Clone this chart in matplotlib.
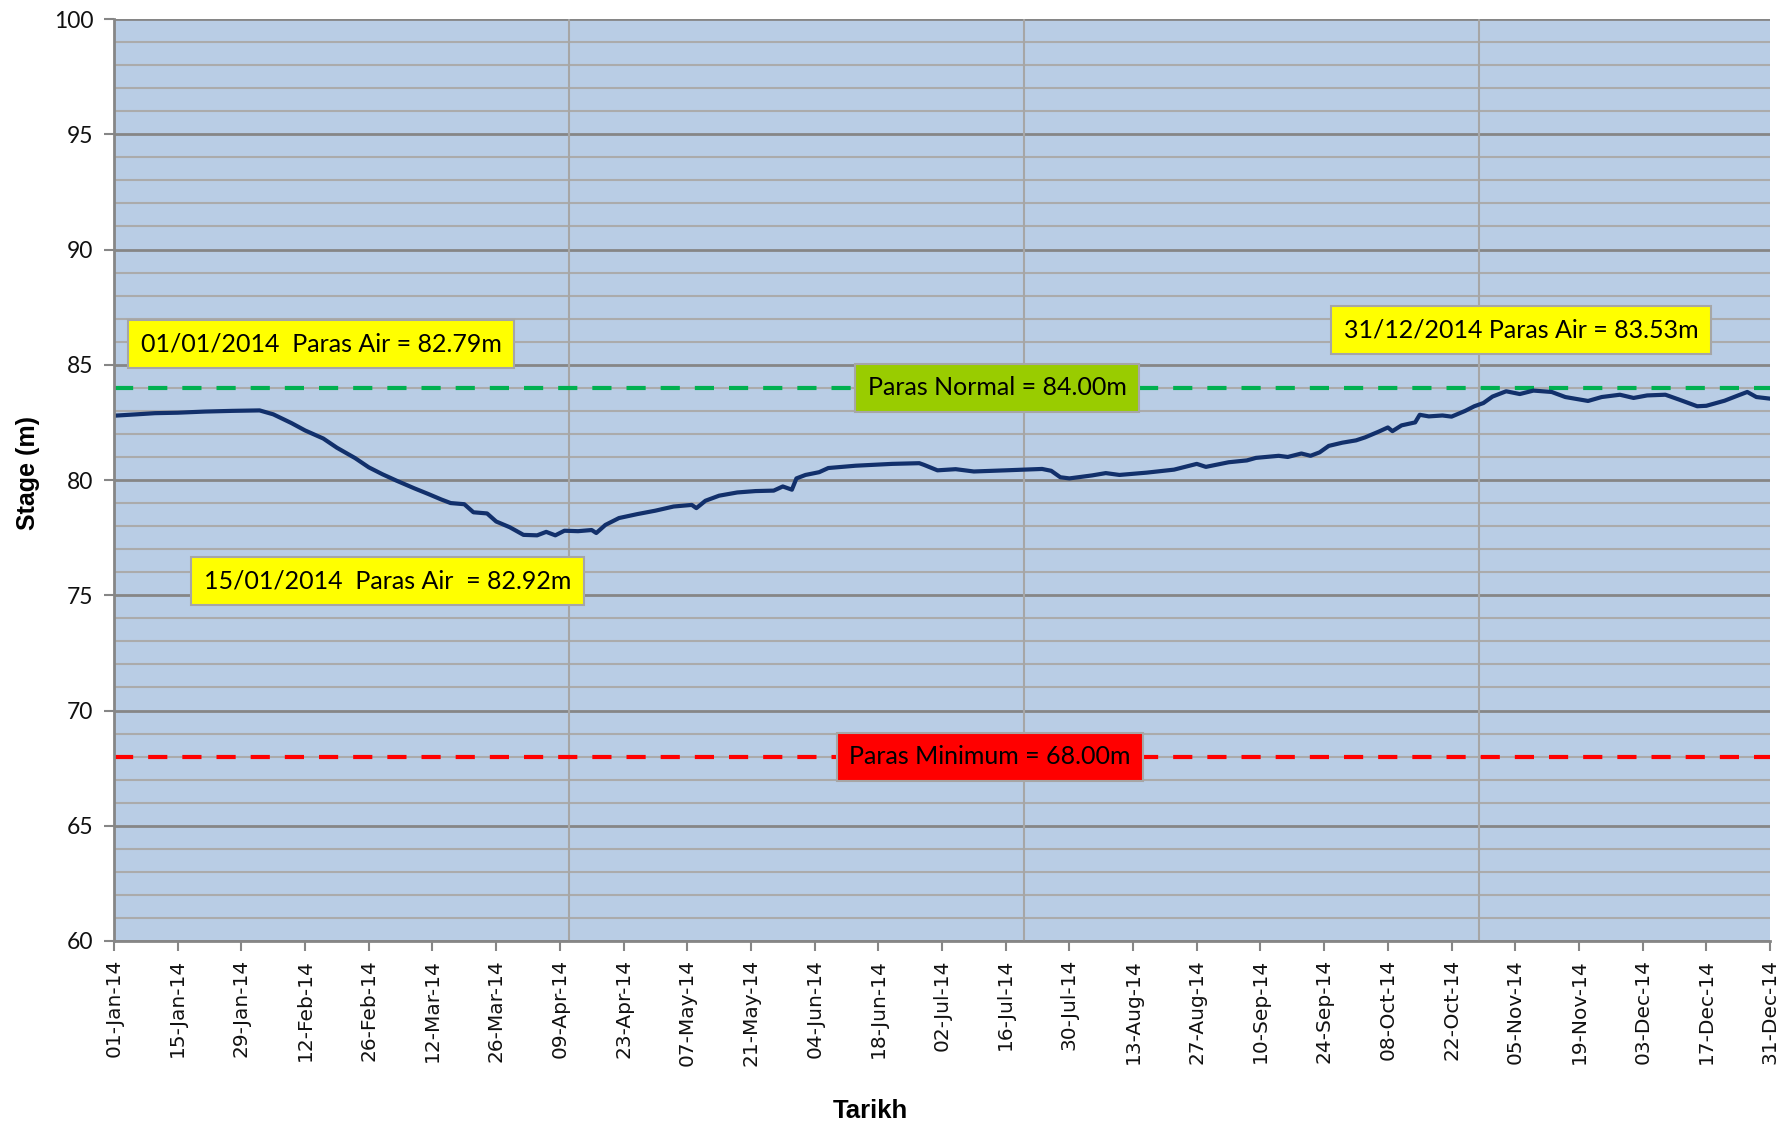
import matplotlib
matplotlib.use("Agg")
import matplotlib.pyplot as plt
import matplotlib.dates as mdates
import pandas as pd

# Daily reservoir stage readings (m), 2014
dates = [
    "2014-01-01", "2014-01-06", "2014-01-10", "2014-01-15", "2014-01-21", "2014-01-27",
    "2014-02-02", "2014-02-05", "2014-02-09", "2014-02-12", "2014-02-16", "2014-02-19",
    "2014-02-23", "2014-02-26", "2014-03-01", "2014-03-04", "2014-03-08", "2014-03-11",
    "2014-03-14", "2014-03-16", "2014-03-19", "2014-03-21", "2014-03-24", "2014-03-26",
    "2014-03-29", "2014-04-01", "2014-04-04", "2014-04-06", "2014-04-08", "2014-04-10",
    "2014-04-13", "2014-04-16", "2014-04-17", "2014-04-19", "2014-04-22", "2014-04-26",
    "2014-04-30", "2014-05-04", "2014-05-08", "2014-05-09", "2014-05-11", "2014-05-14",
    "2014-05-18", "2014-05-22", "2014-05-26", "2014-05-28", "2014-05-30", "2014-05-31",
    "2014-06-02", "2014-06-05", "2014-06-07", "2014-06-13", "2014-06-21", "2014-06-27",
    "2014-06-28", "2014-07-01", "2014-07-05", "2014-07-09", "2014-07-16", "2014-07-24",
    "2014-07-26", "2014-07-28", "2014-07-30", "2014-08-04", "2014-08-07", "2014-08-10",
    "2014-08-16", "2014-08-22", "2014-08-27", "2014-08-29", "2014-09-03", "2014-09-07",
    "2014-09-09", "2014-09-14", "2014-09-16", "2014-09-19", "2014-09-21", "2014-09-23",
    "2014-09-25", "2014-09-28", "2014-10-01", "2014-10-03", "2014-10-06", "2014-10-08",
    "2014-10-09", "2014-10-11", "2014-10-14", "2014-10-15", "2014-10-17", "2014-10-20",
    "2014-10-22", "2014-10-25", "2014-10-27", "2014-10-29", "2014-10-31", "2014-11-03",
    "2014-11-06", "2014-11-09", "2014-11-13", "2014-11-16", "2014-11-21", "2014-11-24",
    "2014-11-28", "2014-12-01", "2014-12-04", "2014-12-08", "2014-12-11", "2014-12-15",
    "2014-12-17", "2014-12-21", "2014-12-24", "2014-12-26", "2014-12-28", "2014-12-31",
]
stage = [
    82.79, 82.85, 82.90, 82.92, 82.97, 83.00,
    83.02, 82.85, 82.47, 82.15, 81.80, 81.40,
    80.95, 80.55, 80.25, 79.98, 79.64, 79.40,
    79.15, 79.00, 78.95, 78.60, 78.55, 78.20,
    77.95, 77.62, 77.60, 77.75, 77.60, 77.80,
    77.78, 77.83, 77.70, 78.05, 78.35, 78.52,
    78.67, 78.85, 78.92, 78.78, 79.10, 79.32,
    79.46, 79.52, 79.54, 79.72, 79.58, 80.07,
    80.22, 80.34, 80.52, 80.62, 80.70, 80.73,
    80.66, 80.42, 80.47, 80.37, 80.42, 80.48,
    80.40, 80.12, 80.07, 80.20, 80.30, 80.22,
    80.32, 80.45, 80.70, 80.57, 80.77, 80.85,
    80.96, 81.05, 81.00, 81.15, 81.05, 81.20,
    81.48, 81.62, 81.72, 81.85, 82.10, 82.28,
    82.12, 82.37, 82.50, 82.83, 82.76, 82.80,
    82.75, 83.00, 83.20, 83.34, 83.62, 83.85,
    83.73, 83.88, 83.82, 83.60, 83.43, 83.60,
    83.70, 83.56, 83.67, 83.70, 83.49, 83.20,
    83.22, 83.44, 83.67, 83.82, 83.60, 83.53,
]

normal_level = 84.00
minimum_level = 68.00

y_ticks = [60, 65, 70, 75, 80, 85, 90, 95, 100]
x_start = "2014-01-01"
x_end = "2014-12-31"

x = pd.to_datetime(dates)
t0 = pd.Timestamp(x_start)
t1 = pd.Timestamp(x_end)

fig = plt.figure(figsize=(17.87, 11.26), dpi=100)
ax = fig.add_axes([0.0638, 0.1643, 0.9267, 0.8188])
ax.set_facecolor("#B9CDE5")

ax.set_xlim(t0, t1)
ax.set_ylim(60, 100)

# Horizontal grid: light minor lines every metre, darker major every 5 m
for v in range(60, 101):
    major = v % 5 == 0
    ax.axhline(v, color="#868686" if major else "#ABABAB",
               lw=2.0 if major else 1.5, zorder=1)
# Vertical grid lines every 100 days
for d in (100, 200, 300):
    ax.axvline(t0 + pd.Timedelta(days=d), color="#A6A6A6", lw=1.5, zorder=1)

# Threshold lines
ax.axhline(normal_level, color="#00B050", lw=3.0, dashes=(4.6, 3.6), zorder=2)
ax.axhline(minimum_level, color="#FF0000", lw=3.0, dashes=(4.6, 3.6), zorder=2)

# Stage series
ax.plot(x, stage, color="#12306B", lw=3.0, zorder=3, solid_joinstyle="round")

# Axes styling
for side in ("top", "right"):
    ax.spines[side].set_visible(False)
for side in ("left", "bottom"):
    ax.spines[side].set_color("#868686")
    ax.spines[side].set_linewidth(2.0)
    ax.spines[side].set_zorder(4)

xt = pd.date_range(t0, t1, freq="14D")
ax.set_xticks(xt)
ax.set_xticklabels([d.strftime("%d-%b-%y") for d in xt], rotation=90,
                   fontsize=14.5, family="DejaVu Sans", color="#111111")
ax.set_yticks(y_ticks)
ax.set_yticklabels([str(v) for v in y_ticks], fontsize=16.5, family="Lato",
                   color="#111111")
ax.tick_params(axis="x", length=7, width=1.5, color="#868686", pad=6)
ax.tick_params(axis="y", length=7, width=1.5, color="#868686", pad=8)

label_font = ["Liberation Sans Narrow", "Liberation Sans"]
fig.text(870 / 1787, 1 - 1111 / 1126, "Tarikh", ha="center", va="center",
         fontsize=18.5, fontweight="bold", family=label_font)
fig.text(28 / 1787, 1 - 473 / 1126, "Stage (m)", ha="center", va="center",
         rotation=90, fontsize=18, fontweight="bold", family=label_font)

def day(n):
    return mdates.date2num(t0 + pd.Timedelta(days=n))

def tag(xd, y, text, fc):
    ax.text(day(xd), y, text, ha="center", va="center", fontsize=18,
            family="Lato", color="black", zorder=5,
            bbox=dict(boxstyle="square,pad=0.5", fc=fc, ec="#A6A6A6", lw=1.5))

tag(45.5, 85.92, "01/01/2014  Paras Air = 82.79m", "#FFFF00")
tag(60.1, 75.61, "15/01/2014  Paras Air  = 82.92m", "#FFFF00")
tag(194.1, normal_level, "Paras Normal = 84.00m", "#99CC00")
tag(192.6, minimum_level, "Paras Minimum = 68.00m", "#FF0000")
tag(309.3, 86.5, "31/12/2014 Paras Air = 83.53m", "#FFFF00")

fig.savefig("out.png", dpi=100, facecolor="white")
